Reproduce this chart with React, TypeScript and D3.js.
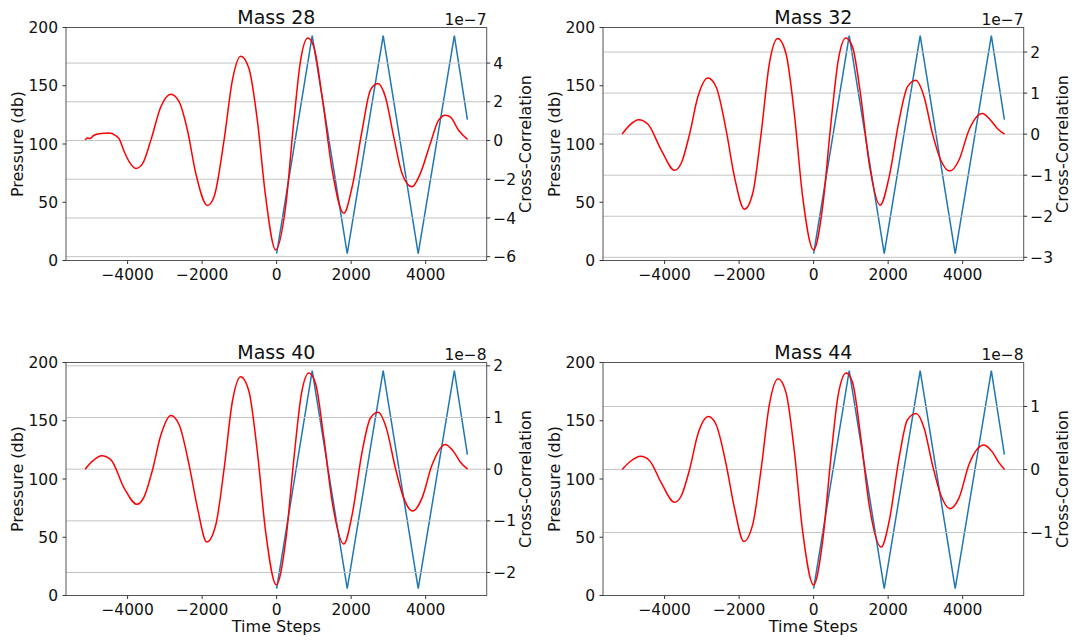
import React from 'react';
import * as d3 from 'd3';

const xTicks = [-4000, -2000, 0, 2000, 4000];
const pressureTicks = [0, 50, 100, 150, 200];

// Pressure (db), left axis: [time step, pressure]
const pressure: [number, number][] = [
  [0, 6], [955, 193], [1895, 6], [2860, 193], [3800, 6], [4770, 193], [5120, 121],
];

// Cross-correlation, right axis (values in units of the axis offset)
const xcorr28: [number, number][] = [
  [-5140, 0.02], [-5090, 0.13], [-5010, 0.1], [-4900, 0.27], [-4720, 0.36], [-4500, 0.39], [-4330, 0.27],
  [-4230, 0.1], [-4089, -0.58], [-3955, -1.1], [-3777, -1.44], [-3598, -1.19], [-3375, 0.02], [-3107, 1.74],
  [-2839, 2.39], [-2616, 2.0], [-2393, 0.53], [-2170, -1.7], [-1857, -3.35], [-1679, -2.9], [-1411, 0.02],
  [-1188, 3.11], [-964, 4.35], [-741, 3.71], [-518, 1.05], [-295, -2.9], [-27, -5.65], [241, -3.42],
  [464, 1.05], [643, 4.14], [839, 5.29], [1000, 4.83], [1223, 2.25], [1491, -1.53], [1804, -3.76],
  [2027, -2.39], [2295, 0.53], [2518, 2.6], [2714, 2.94], [2920, 2.25], [3143, 0.19], [3366, -1.7],
  [3634, -2.39], [3857, -1.7], [4125, -0.15], [4348, 1.05], [4527, 1.31], [4661, 1.22], [4884, 0.53],
  [5125, 0.05],
];
const xcorr32: [number, number][] = [
  [-5140, 0], [-4937, 0.22], [-4696, 0.35], [-4446, 0.24], [-4089, -0.39], [-3732, -0.88], [-3554, -0.71],
  [-3330, 0], [-3107, 0.91], [-2839, 1.37], [-2616, 1.15], [-2348, 0.1], [-2125, -1.04], [-1857, -1.83],
  [-1634, -1.44], [-1411, 0], [-1188, 1.72], [-964, 2.33], [-741, 1.96], [-518, 0.5], [-295, -1.52],
  [0, -2.82], [241, -1.77], [464, 0.26], [661, 1.8], [866, 2.34], [1045, 2.12], [1268, 0.91], [1491, -0.71],
  [1786, -1.73], [2027, -1.04], [2295, 0.34], [2518, 1.15], [2741, 1.31], [2964, 0.91], [3188, 0.02],
  [3411, -0.63], [3652, -0.9], [3902, -0.63], [4170, 0.1], [4527, 0.5], [4750, 0.34], [4929, 0.14], [5125, 0],
];
const xcorr40: [number, number][] = [
  [-5140, 0], [-4937, 0.16], [-4696, 0.26], [-4446, 0.18], [-4089, -0.37], [-3750, -0.68], [-3554, -0.53],
  [-3330, -0.01], [-3107, 0.66], [-2839, 1.04], [-2616, 0.86], [-2348, 0.08], [-2125, -0.75], [-1875, -1.41],
  [-1634, -1.08], [-1411, 0], [-1188, 1.31], [-964, 1.79], [-741, 1.5], [-518, 0.34], [-295, -1.21],
  [-9, -2.24], [241, -1.4], [464, 0.21], [661, 1.44], [866, 1.86], [1045, 1.66], [1268, 0.6], [1491, -0.63],
  [1804, -1.45], [2027, -0.88], [2295, 0.34], [2518, 0.99], [2723, 1.1], [2946, 0.79], [3188, 0.02],
  [3411, -0.56], [3652, -0.81], [3902, -0.56], [4170, 0.08], [4527, 0.48], [4750, 0.34], [4929, 0.14], [5125, 0],
];
const xcorr44: [number, number][] = [
  [-5140, 0], [-4937, 0.12], [-4643, 0.21], [-4402, 0.14], [-4089, -0.21], [-3732, -0.52], [-3554, -0.42],
  [-3330, 0], [-3107, 0.56], [-2821, 0.84], [-2616, 0.71], [-2348, 0.08], [-2125, -0.61], [-1875, -1.14],
  [-1634, -0.87], [-1411, 0], [-1188, 1.03], [-955, 1.44], [-741, 1.22], [-518, 0.29], [-295, -0.98],
  [0, -1.83], [241, -1.14], [464, 0.19], [661, 1.19], [875, 1.53], [1045, 1.38], [1268, 0.5], [1491, -0.56],
  [1813, -1.23], [2027, -0.82], [2295, 0.19], [2518, 0.79], [2750, 0.89], [2964, 0.66], [3188, 0.08],
  [3411, -0.4], [3661, -0.62], [3902, -0.45], [4170, 0.08], [4571, 0.39], [4795, 0.28], [4973, 0.11], [5125, 0],
];

const titles = ['Mass 28', 'Mass 32', 'Mass 40', 'Mass 44'];
const offsets = ['1e\u22127', '1e\u22127', '1e\u22128', '1e\u22128'];
const rightTicks = [[-6, -4, -2, 0, 2, 4], [-3, -2, -1, 0, 1, 2], [-2, -1, 0, 1, 2], [-1, 0, 1]];
const xcorrs = [xcorr28, xcorr32, xcorr40, xcorr44];

const FONT = 'DejaVu Sans, sans-serif';
const W = 420.7;
const H = 233;
const fmt = (v: number) => (v < 0 ? '\u2212' + Math.abs(v) : String(v));

function Panel({ idx, x0, y0, showXLabel }: { idx: number; x0: number; y0: number; showXLabel: boolean }) {
  const red = xcorrs[idx];
  const allT = [...red.map((d) => d[0]), ...pressure.map((d) => d[0])];
  const [tmin, tmax] = d3.extent(allT) as [number, number];
  const tp = (tmax - tmin) * 0.05;
  const x = d3.scaleLinear().domain([tmin - tp, tmax + tp]).range([0, W]);
  const yL = d3.scaleLinear().domain([0, 200]).range([H, 0]);
  const [vmin, vmax] = d3.extent(red, (d) => d[1]) as [number, number];
  const vp = (vmax - vmin) * 0.05;
  const yR = d3.scaleLinear().domain([vmin - vp, vmax + vp]).range([H, 0]);
  const blueLine = d3.line<[number, number]>().x((d) => x(d[0])).y((d) => yL(d[1]));
  const redLine = d3
    .line<[number, number]>()
    .x((d) => x(d[0]))
    .y((d) => yR(d[1]))
    .curve(d3.curveMonotoneX);
  const tickColor = '#333';
  return (
    <g transform={`translate(${x0},${y0})`} fontFamily={FONT}>
      <path d={blueLine(pressure) || ''} fill="none" stroke="#1f77b4" strokeWidth={1.5} />
      {rightTicks[idx].map((t) => (
        <line key={'g' + t} x1={0} x2={W} y1={yR(t)} y2={yR(t)} stroke="#c4c4c4" strokeWidth={1} />
      ))}
      <path d={redLine(red) || ''} fill="none" stroke="#ff0000" strokeWidth={1.5} />
      <rect x={0} y={0} width={W} height={H} fill="none" stroke="#555" strokeWidth={1} />
      {/* x ticks */}
      {xTicks.map((t) => (
        <g key={'x' + t} transform={`translate(${x(t)},${H})`}>
          <line y1={0} y2={3.5} stroke={tickColor} />
          <text y={19} textAnchor="middle" fontSize={15.5} fill="#111">
            {fmt(t)}
          </text>
        </g>
      ))}
      {/* left ticks */}
      {pressureTicks.map((t) => (
        <g key={'l' + t} transform={`translate(0,${yL(t)})`}>
          <line x1={0} x2={-3.5} stroke={tickColor} />
          <text x={-8} dy="0.36em" textAnchor="end" fontSize={15.5} fill="#111">
            {fmt(t)}
          </text>
        </g>
      ))}
      {/* right ticks */}
      {rightTicks[idx].map((t) => (
        <g key={'r' + t} transform={`translate(${W},${yR(t)})`}>
          <line x1={0} x2={3.5} stroke={tickColor} />
          <text x={6.5} dy="0.36em" textAnchor="start" fontSize={15.5} fill="#111">
            {fmt(t)}
          </text>
        </g>
      ))}
      <text x={W / 2} y={-4} textAnchor="middle" fontSize={19} fill="#111">
        {titles[idx]}
      </text>
      <text x={W} y={-3} textAnchor="end" fontSize={15.5} fill="#111">
        {offsets[idx]}
      </text>
      <text
        transform={`translate(-48.7,${H / 2}) rotate(-90)`}
        textAnchor="middle"
        dy="0.36em"
        fontSize={16}
        fill="#111"
      >
        Pressure (db)
      </text>
      <text
        transform={`translate(${W + 39},${H / 2}) rotate(-90)`}
        textAnchor="middle"
        dy="0.36em"
        fontSize={16}
        fill="#111"
      >
        Cross-Correlation
      </text>
      {showXLabel && (
        <text x={W / 2} y={H + 36} textAnchor="middle" fontSize={16} fill="#111">
          Time Steps
        </text>
      )}
    </g>
  );
}

export default function App() {
  return (
    <svg
      width={1078}
      height={640}
      style={{ position: 'absolute', left: 0, top: 0, background: '#fff' }}
    >
      <rect width={1078} height={640} fill="#fff" />
      <Panel idx={0} x0={66} y0={27.5} showXLabel={false} />
      <Panel idx={1} x0={603} y0={27.5} showXLabel={false} />
      <Panel idx={2} x0={66} y0={362.5} showXLabel={true} />
      <Panel idx={3} x0={603} y0={362.5} showXLabel={true} />
    </svg>
  );
}
